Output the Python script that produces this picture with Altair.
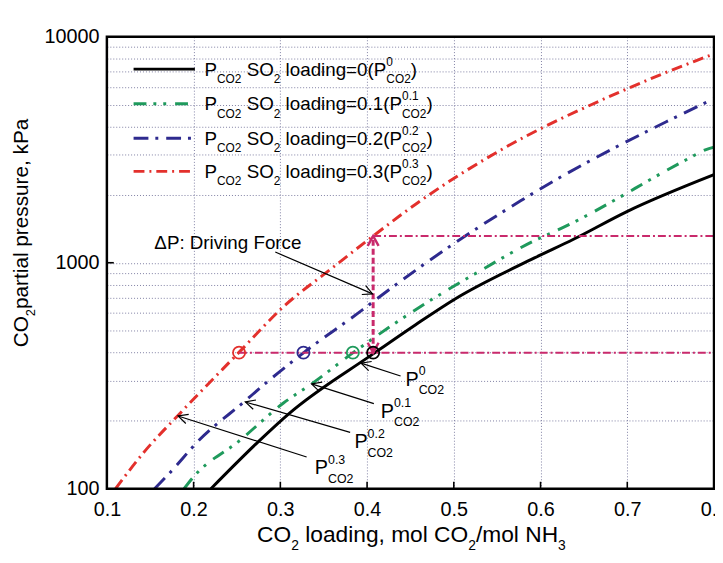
import math
import altair as alt
import pandas as pd

# ---------------- data ----------------
black_x = [0.220, 0.275, 0.310, 0.407, 0.456, 0.501, 0.593, 0.638, 0.699, 0.800]
black_y = [100, 162, 215, 395, 532, 690, 1050, 1270, 1680, 2453]
green_x = [0.189, 0.201, 0.252, 0.304, 0.336, 0.384, 0.456, 0.524, 0.593, 0.625, 0.770, 0.790, 0.800]
green_y = [100, 114, 162, 240, 291, 400, 620, 891, 1253, 1426, 2884, 3161, 3250]
blue_x = [0.155, 0.173, 0.205, 0.258, 0.289, 0.327, 0.395, 0.410, 0.498, 0.577, 0.615, 0.745, 0.800]
blue_y = [100, 118, 162, 242, 306, 400, 620, 686, 1200, 1879, 2296, 4208, 5320]
red_x = [0.110, 0.144, 0.182, 0.252, 0.304, 0.357, 0.407, 0.456, 0.551, 0.691, 0.779, 0.800]
red_y = [100, 147, 211, 400, 641, 930, 1313, 1816, 3105, 5690, 7832, 8400]

so2_loadings = ["0", "0.1", "0.2", "0.3"]
circle_x = [0.2524, 0.3266, 0.3836, 0.407]
circle_y = [400, 400, 400, 400]
p_ref = 400          # operating CO2 pressure
p_top = 1313         # pressure of the 0.3 curve at the operating loading
x_op = 0.407         # operating loading
x_ticks = [0.1, 0.2, 0.3, 0.4, 0.5, 0.6, 0.7, 0.8]
y_ticks = [100, 200, 300, 400, 500, 600, 700, 800, 900,
           1000, 2000, 3000, 4000, 5000, 6000, 7000, 8000, 9000, 10000]

# ---------------- style ----------------
FONT = "Liberation Sans"
RED, BLUE, GREEN, BLACK = "#e3302c", "#2e2a8e", "#1f9a5c", "#000000"
MAG = "#c92a6c"
GRID = "#7f7fa3"
W, H = 614, 457
PL, PT = 108, 34          # screen position of plot origin (incl. 8px page margin)
X0, X1 = 0.1, 0.8
LY0, LY1 = 2.0, 4.0

def xd(p):
    return X0 + p / W * (X1 - X0)

def yd(p):
    return 10 ** (LY1 - p / H * (LY1 - LY0))

def sx2d(sx):
    return xd(sx - PL)

def sy2d(sy):
    return yd(sy - PT)

def d2sx(x):
    return PL + (x - X0) / (X1 - X0) * W

def d2sy(y):
    return PT + (LY1 - math.log10(y)) / (LY1 - LY0) * H

CW = {' ': 278, '(': 333, ')': 333, ',': 278, '.': 278, '/': 278, ':': 278, '=': 584,
      'C': 722, 'D': 722, 'F': 611, 'H': 722, 'N': 722, 'O': 778, 'P': 667, 'S': 667,
      'a': 556, 'c': 500, 'd': 556, 'e': 556, 'g': 556, 'i': 222, 'k': 500, 'l': 222,
      'm': 833, 'n': 556, 'o': 556, 'p': 556, 'r': 333, 's': 500, 't': 278, 'u': 556,
      'v': 500, '\u0394': 668}

def tw(s, size):
    return sum(CW.get(c, 556) for c in s) * size / 1000.0

def layout(runs, sx, sy, big, small, sub_dy, sup_dy, rotated=False):
    segs = []
    adv = 0.0
    for r in runs:
        kind = r[0]
        if kind == "n":
            txt = r[1]
            lead = len(txt) - len(txt.lstrip(" "))
            adv += tw(" " * lead, big)
            txt = txt.lstrip(" ")
            segs.append((adv, 0.0, txt, big))
            adv += tw(txt, big)
        elif kind == "sub":
            segs.append((adv, sub_dy, r[1], small))
            adv += tw(r[1], small)
        elif kind == "stack":
            segs.append((adv, sup_dy, r[1], small))
            segs.append((adv, sub_dy, r[2], small))
            adv += max(tw(r[1], small), tw(r[2], small))
    rows = []
    for a, d, t, s in segs:
        if rotated:
            px, py = sx + d, sy - a
        else:
            px, py = sx + a, sy + d
        rows.append(dict(x=sx2d(px), y=sy2d(py), t=t, s=s))
    return rows, adv

xscale = alt.Scale(domain=[X0, X1], nice=False, zero=False)
yscale = alt.Scale(type="log", domain=[100, 10000], nice=False)
xaxis = alt.Axis(values=x_ticks, format=".1f", labelFlush=False, grid=True,
                 gridColor=GRID, gridDash=[1, 2], gridWidth=1, ticks=False, tickSize=0,
                 domain=False, title=None, labelFontSize=20, labelFont=FONT,
                 labelColor="black", labelPadding=11)
yaxis = alt.Axis(values=y_ticks, grid=True, gridColor=GRID, gridDash=[1, 2], gridWidth=1,
                 ticks=False, tickSize=0, domain=False, title=None, labelFontSize=20,
                 labelFont=FONT, labelColor="black", labelPadding=8,
                 labelExpr="datum.value == 100 || datum.value == 1000 || datum.value == 10000 ? format(datum.value, 'd') : ''")

def X(f="x"):
    return alt.X(f"{f}:Q", scale=xscale, axis=xaxis)

def Y(f="y"):
    return alt.Y(f"{f}:Q", scale=yscale, axis=yaxis)

layers = []

# ---------------- curves + legend lines ----------------
series = [
    (black_x, black_y, BLACK, None, 73.3),
    (green_x, green_y, GREEN, [13, 7, 3, 7, 3, 9], 108.3),
    (blue_x, blue_y, BLUE, [15, 7, 3, 8], 143.3),
    (red_x, red_y, RED, [11, 5, 2, 5], 176.7),
]
text_rows = []
for k, (xs, ys, col, dash, base) in enumerate(series):
    rows = [dict(x=a, y=b, g="curve") for a, b in zip(xs, ys)]
    ly = base - 6.6
    rows += [dict(x=sx2d(135), y=sy2d(ly), g="legend"), dict(x=sx2d(197), y=sy2d(ly), g="legend")]
    kw = dict(color=col, strokeWidth=3, clip=True, interpolate="monotone")
    if dash:
        kw["strokeDash"] = dash
    layers.append(alt.Chart(pd.DataFrame(rows)).mark_line(**kw).encode(
        x=X(), y=Y(), detail="g:N"))
    val = so2_loadings[k]
    runs = [("n", "P"), ("sub", "CO2"), ("n", " SO"), ("sub", "2"),
            ("n", f" loading={val}(P"), ("stack", val, "CO2"), ("n", ")")]
    r, _ = layout(runs, 206.7, base, 19, 12, 7.4, -10)
    text_rows += r

# ---------------- magenta driving-force lines ----------------
hl = pd.DataFrame([dict(x=circle_x[0], x2=X1, y=p_ref), dict(x=x_op, x2=X1, y=p_top)])
layers.append(alt.Chart(hl).mark_rule(color=MAG, strokeWidth=2, strokeDash=[8, 3, 2, 3]).encode(
    x=X(), x2="x2:Q", y=Y()))
vl = pd.DataFrame([dict(x=x_op, y=p_ref, y2=p_top)])
layers.append(alt.Chart(vl).mark_rule(color=MAG, strokeWidth=3, strokeDash=[6, 3]).encode(
    x=X(), y=Y(), y2="y2:Q"))
mh = pd.DataFrame([dict(x=x_op, y=p_top, a=270), dict(x=x_op, y=p_ref, a=90)])
layers.append(alt.Chart(mh).mark_point(shape="M-1,-0.55L0,0L-1,0.55", filled=False,
                                       size=400, strokeWidth=2.5, color=MAG, opacity=1).encode(
    x=X(), y=Y(), angle=alt.Angle("a:Q", scale=None)))

# ---------------- open circles ----------------
circ = pd.DataFrame(dict(x=circle_x, y=circle_y, c=[RED, BLUE, GREEN, BLACK]))
layers.append(alt.Chart(circ).mark_point(shape="circle", filled=False, size=150,
                                         strokeWidth=1.8, opacity=1).encode(
    x=X(), y=Y(), color=alt.Color("c:N", scale=None)))

# ---------------- annotation arrows ----------------
arrows_screen = [
    ((278.3, 251.7), (376.7, 294.0)),
    ((405.0, 377.0), (365.0, 364.0)),
    ((378.0, 405.0), (315.0, 385.0)),
    ((354.0, 434.0), (248.0, 403.3)),
    ((310.0, 459.0), (180.0, 417.5)),
]
arr_rows, head_rows = [], []
for (tx, ty), (hx, hy) in arrows_screen:
    x1, y1, x2, y2 = sx2d(tx), sy2d(ty), sx2d(hx), sy2d(hy)
    arr_rows.append(dict(x=x1, y=y1, x2=x2, y2=y2))
    ang = math.degrees(math.atan2(d2sy(y2) - d2sy(y1), d2sx(x2) - d2sx(x1))) % 360
    head_rows.append(dict(x=x2, y=y2, a=ang))
layers.append(alt.Chart(pd.DataFrame(arr_rows)).mark_rule(color="black", strokeWidth=1.2).encode(
    x=X(), y=Y(), x2="x2:Q", y2="y2:Q"))
layers.append(alt.Chart(pd.DataFrame(head_rows)).mark_point(
    shape="M-1,-0.5L0,0L-1,0.5", filled=False, size=380, strokeWidth=1.2, color="black",
    opacity=1).encode(x=X(), y=Y(), angle=alt.Angle("a:Q", scale=None)))

# ---------------- annotation texts ----------------
labels = [("0", 410.0, 386.7), ("0.1", 385.0, 419.3), ("0.2", 358.3, 450.0), ("0.3", 318.3, 476.3)]
for sup, sx, sy in labels:
    r, _ = layout([("n", "P"), ("stack", sup, "CO2")], sx, sy, 20, 12.5, 8.5, -10.5)
    text_rows += r
r, _ = layout([("n", "\u0394P: Driving Force")], 156, 248.3, 19, 12, 0, 0)
text_rows += r

xt_runs = [("n", "CO"), ("sub", "2"), ("n", " loading, mol CO"), ("sub", "2"),
           ("n", "/mol NH"), ("sub", "3")]
_, wtot = layout(xt_runs, 0, 545, 23, 14, 8, 0)
r, _ = layout(xt_runs, 416 - wtot / 2, 545, 23, 14, 8, 0)
text_rows += r

layers.append(alt.Chart(pd.DataFrame(text_rows)).mark_text(
    align="left", baseline="alphabetic", font=FONT, color="black").encode(
    x=X(), y=Y(), text="t:N", size=alt.Size("s:Q", scale=None)))

yt_rows, _ = layout([("n", "CO"), ("sub", "2"), ("n", "partial pressure, kPa")],
                    28.5, 348, 21, 13, 7, 0, rotated=True)
layers.append(alt.Chart(pd.DataFrame(yt_rows)).mark_text(
    align="left", baseline="alphabetic", font=FONT, color="black", angle=270).encode(
    x=X(), y=Y(), text="t:N", size=alt.Size("s:Q", scale=None)))

# ---------------- inward ticks and frame ----------------
bt = pd.DataFrame(dict(x=x_ticks[1:-1], y=[100] * 6, y2=[sy2d(PT + H - 7)] * 6))
layers.append(alt.Chart(bt).mark_rule(color="black", strokeWidth=1.6).encode(
    x=X(), y=Y(), y2="y2:Q"))
lt = pd.DataFrame(dict(x=[X0], x2=[sx2d(PL + 7)], y=[1000]))
layers.append(alt.Chart(lt).mark_rule(color="black", strokeWidth=1.6).encode(
    x=X(), x2="x2:Q", y=Y()))
fr = pd.DataFrame(dict(x=[X0], x2=[X1], y=[100], y2=[10000]))
layers.append(alt.Chart(fr).mark_rect(fillOpacity=0, stroke="black", strokeWidth=2.5).encode(
    x=X(), x2="x2:Q", y=Y(), y2="y2:Q"))

chart = alt.layer(*layers).properties(
    width=W, height=H, autosize="none",
    padding={"left": PL - 8, "top": PT - 8, "right": 1, "bottom": 68},
    background="white",
).configure_view(strokeWidth=0)

chart.save("out.html", embed_options={"renderer": "svg", "actions": False})
